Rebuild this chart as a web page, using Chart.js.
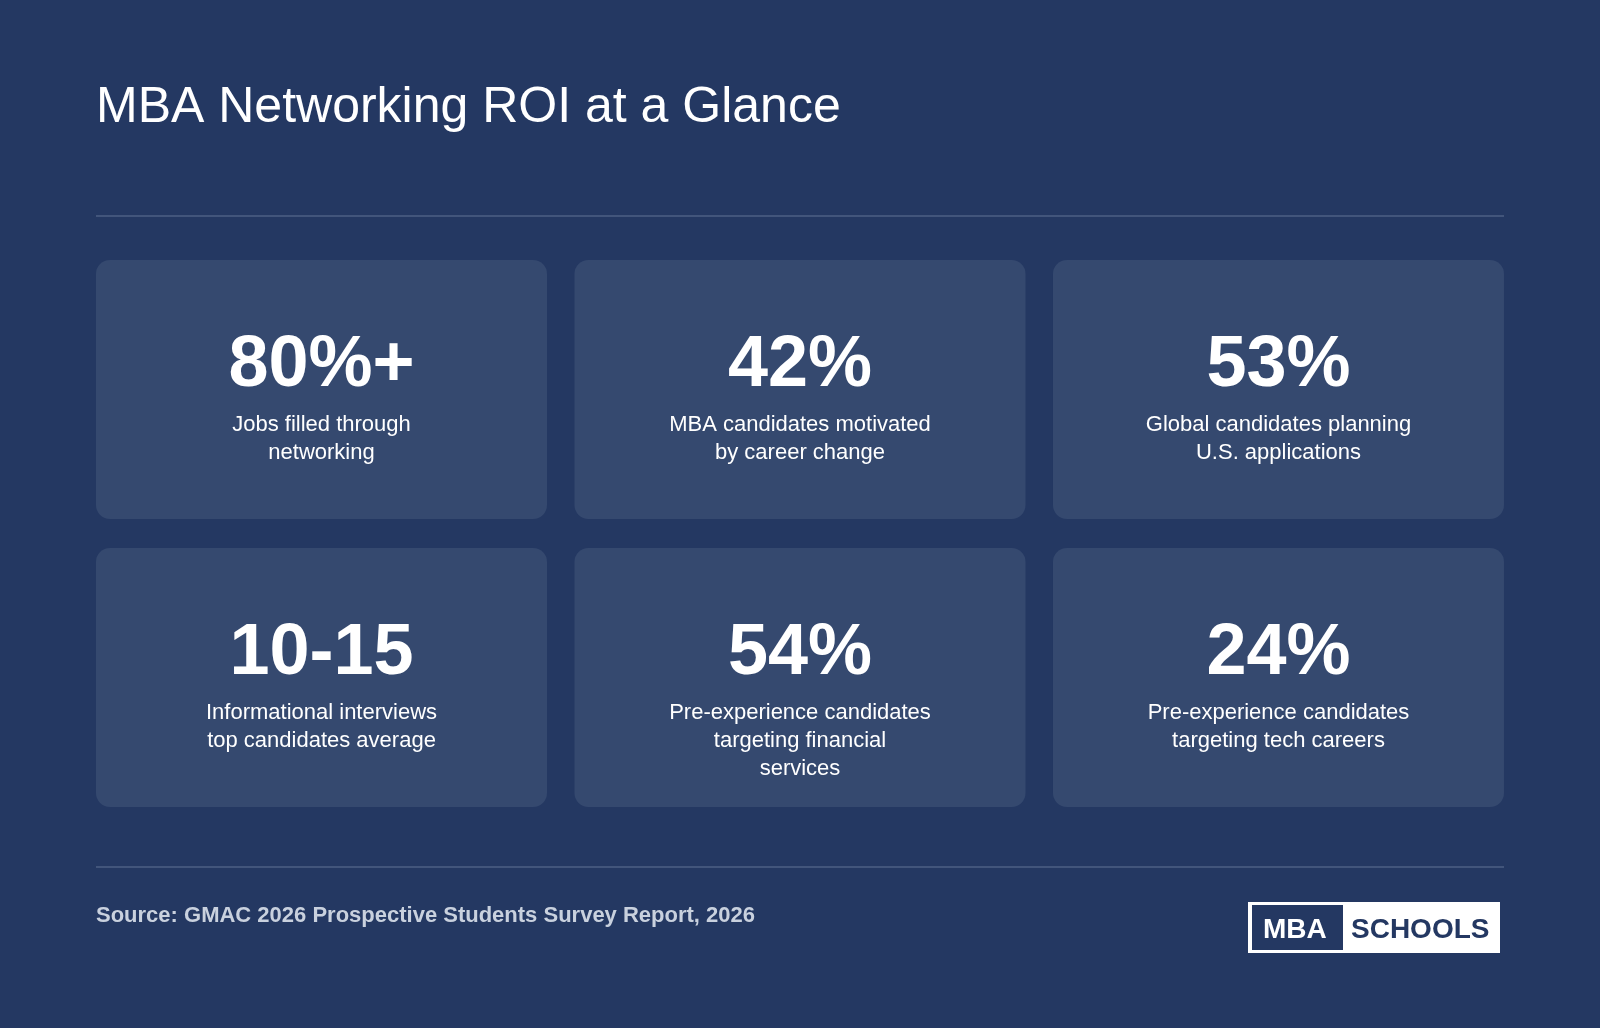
<!DOCTYPE html>
<html><head><meta charset="utf-8">
<script src="https://cdn.jsdelivr.net/npm/chart.js@4"></script>
<style>html,body{margin:0;padding:0;background:#243862;}#wrap{width:1600px;height:1028px;position:relative}</style>
</head><body><div id="wrap"><canvas id="c" width="1600" height="1028"></canvas></div>
<script>
const title = "MBA Networking ROI at a Glance";
const statValues = ["80%+", "42%", "53%", "10-15", "54%", "24%"];
const statLabels = [
  ["Jobs filled through", "networking"],
  ["MBA candidates motivated", "by career change"],
  ["Global candidates planning", "U.S. applications"],
  ["Informational interviews", "top candidates average"],
  ["Pre-experience candidates", "targeting financial", "services"],
  ["Pre-experience candidates", "targeting tech careers"]
];
const statCols = [0, 1, 2, 0, 1, 2];
const statRows = [0, 0, 0, 1, 1, 1];
const source = "Source: GMAC 2026 Prospective Students Survey Report, 2026";

const FONT = '"Liberation Sans", Arial, sans-serif';
const cardPlugin = {
  id: 'cards',
  beforeDatasetsDraw(chart) {
    const ctx = chart.ctx, xs = chart.scales.x, ys = chart.scales.y;
    ctx.save();
    ctx.fillStyle = '#ffffff'; ctx.font = '50px ' + FONT; ctx.textBaseline = 'alphabetic';
    ctx.textAlign = 'left'; ctx.fillText(title, 96, 122);
    ctx.strokeStyle = '#4d5f84'; ctx.lineWidth = 1.5;
    ctx.beginPath(); ctx.moveTo(96, 216); ctx.lineTo(1504, 216); ctx.stroke();
    ctx.beginPath(); ctx.moveTo(96, 867); ctx.lineTo(1504, 867); ctx.stroke();
    const w = 451, h = 259;
    chart.data.datasets[0].data.forEach((p, i) => {
      const cx = xs.getPixelForValue(p.x), cy = ys.getPixelForValue(p.y);
      ctx.fillStyle = '#35496f';
      ctx.beginPath(); ctx.roundRect(cx - w/2, cy - h/2, w, h, 14); ctx.fill();
      ctx.fillStyle = '#ffffff'; ctx.textAlign = 'center';
      ctx.font = 'bold 72px ' + FONT;
      ctx.fillText(statValues[i], cx, cy - 3);
      ctx.font = '22px ' + FONT;
      statLabels[i].forEach((l, k) => ctx.fillText(l, cx, cy + 42 + k * 28));
    });
    ctx.textAlign = 'left'; ctx.fillStyle = '#c9d1de'; ctx.font = 'bold 22px ' + FONT;
    ctx.fillText(source, 96, 922);
    ctx.fillStyle = '#ffffff'; ctx.fillRect(1248, 902, 252, 51);
    ctx.fillStyle = '#243862'; ctx.fillRect(1252, 905, 91, 45);
    ctx.font = 'bold 28px ' + FONT;
    ctx.fillStyle = '#ffffff'; ctx.fillText('MBA', 1263, 938);
    ctx.fillStyle = '#243862'; ctx.fillText('SCHOOLS', 1351, 938);
    ctx.restore();
  }
};

new Chart(document.getElementById('c'), {
  type: 'scatter',
  data: { datasets: [{ data: statCols.map((c, i) => ({ x: c, y: statRows[i] })), pointRadius: 0 }] },
  options: {
    responsive: false, animation: false, events: [],
    layout: { padding: 0 },
    plugins: { legend: { display: false }, tooltip: { enabled: false } },
    scales: {
      x: { type: 'linear', display: false, min: -0.6719, max: 2.6719 },
      y: { type: 'linear', display: false, reverse: true, min: -1.3524, max: 2.2170 }
    }
  },
  plugins: [cardPlugin]
});
</script></body></html>
